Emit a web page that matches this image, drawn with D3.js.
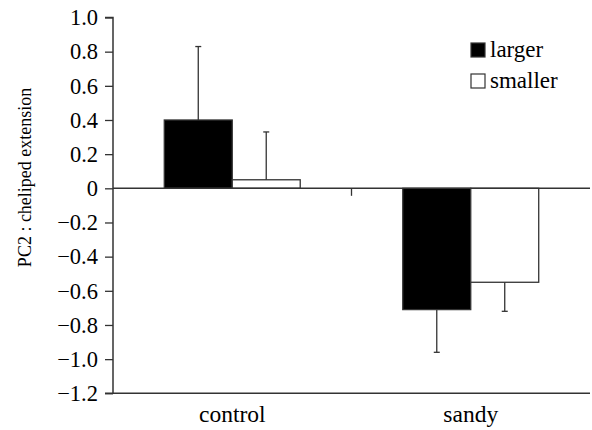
<!DOCTYPE html>
<html><head><meta charset="utf-8">
<script src="https://cdn.jsdelivr.net/npm/d3@7"></script>
<style>body{margin:0;background:#fff}svg{display:block}</style>
</head><body>
<svg id="c" width="592" height="430"></svg>
<script>
const categories = ["control", "sandy"];
const seriesNames = ["larger", "smaller"];
const larger = [0.40, -0.71];
const smaller = [0.05, -0.55];
const largerErr = [0.43, 0.25];
const smallerErr = [0.28, 0.17];
const yTicks = [1.0, 0.8, 0.6, 0.4, 0.2, 0, -0.2, -0.4, -0.6, -0.8, -1.0, -1.2];
const yTitle = "PC2 : cheliped extension";

const FONT = "Liberation Serif";
const svg = d3.select("#c");
const pL = 113, pR = 590, pT = 17.5, pB = 393.3;
const axisColor = "#333";
const y = d3.scaleLinear().domain([-1.2, 1.0]).range([pB, pT]);
const x0 = d3.scaleBand().domain(categories).range([pL, pR]).paddingInner(0.43).paddingOuter(0.215);
const x1 = d3.scaleBand().domain(seriesNames).range([0, x0.bandwidth()]);
const fills = {larger: "#000", smaller: "#fff"};

const data = [];
categories.forEach((c, i) => {
  data.push({cat: c, s: "larger", v: larger[i], e: largerErr[i]});
  data.push({cat: c, s: "smaller", v: smaller[i], e: smallerErr[i]});
});

// bottom axis line
svg.append("line").attr("x1", pL).attr("x2", pR).attr("y1", pB).attr("y2", pB)
  .attr("stroke", axisColor).attr("stroke-width", 1.5);

// bars
svg.append("g").selectAll("rect").data(data).join("rect")
  .attr("x", d => x0(d.cat) + x1(d.s))
  .attr("width", x1.bandwidth())
  .attr("y", d => y(Math.max(0, d.v)))
  .attr("height", d => Math.abs(y(d.v) - y(0)))
  .attr("fill", d => fills[d.s])
  .attr("stroke", axisColor).attr("stroke-width", 1.3);

// error bars (one-sided, away from zero)
const eg = svg.append("g").attr("stroke", axisColor).attr("stroke-width", 1.3);
data.forEach(d => {
  const cx = x0(d.cat) + x1(d.s) + x1.bandwidth() / 2;
  const end = d.v >= 0 ? d.v + d.e : d.v - d.e;
  eg.append("line").attr("x1", cx).attr("x2", cx).attr("y1", y(d.v)).attr("y2", y(end));
  eg.append("line").attr("x1", cx - 3).attr("x2", cx + 3).attr("y1", y(end)).attr("y2", y(end));
});

// zero line with category boundary tick
svg.append("line").attr("x1", pL).attr("x2", pR).attr("y1", y(0)).attr("y2", y(0))
  .attr("stroke", axisColor).attr("stroke-width", 1.5);
const bx = x0.range()[0] + x0.step();
svg.append("line").attr("x1", bx).attr("x2", bx).attr("y1", y(0)).attr("y2", y(0) + 7.5)
  .attr("stroke", axisColor).attr("stroke-width", 1.3);

// y axis
const fmt = d => d === 0 ? "0" : d3.format(".1f")(d);
const ya = svg.append("g").attr("transform", `translate(${pL},0)`)
  .call(d3.axisLeft(y).tickValues(yTicks).tickFormat(fmt).tickSize(8).tickPadding(7));
ya.attr("font-family", null).attr("font-size", null);
ya.select(".domain").attr("stroke", axisColor).attr("stroke-width", 1.5).attr("d", `M-8,${pT}H0V${pB}H-8`);
ya.selectAll(".tick line").attr("stroke", axisColor).attr("stroke-width", 1.3);
ya.selectAll(".tick text").style("font-family", FONT).style("font-size", "22.5px").attr("fill", "#000");

// category labels
svg.append("g").selectAll("text").data(categories).join("text")
  .attr("x", d => x0(d) + x0.bandwidth() / 2).attr("y", 422)
  .attr("text-anchor", "middle").style("font-family", FONT).style("font-size", "23.5px").text(d => d);

// y title
svg.append("text").attr("transform", `translate(31,${(pT + pB) / 2 - 28}) rotate(-90)`)
  .attr("text-anchor", "middle").style("font-family", FONT).style("font-size", "18px").text(yTitle);

// legend
const lg = svg.append("g");
seriesNames.forEach((s, i) => {
  lg.append("rect").attr("x", 471).attr("y", 43 + i * 31).attr("width", 14).attr("height", 14)
    .attr("fill", fills[s]).attr("stroke", axisColor).attr("stroke-width", 1.2);
  lg.append("text").attr("x", 490).attr("y", 57 + i * 31)
    .style("font-family", FONT).style("font-size", "23px").text(s);
});
</script>
</body></html>
